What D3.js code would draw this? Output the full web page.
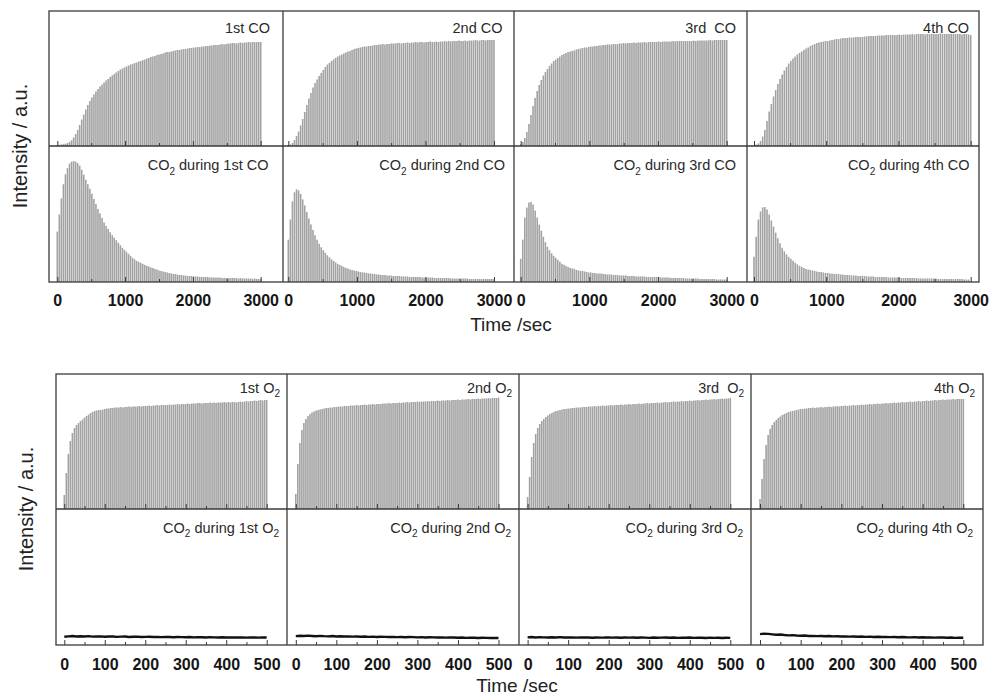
<!DOCTYPE html>
<html>
<head>
<meta charset="utf-8">
<script src="https://cdn.jsdelivr.net/npm/d3@7"></script>
<style>
  body { margin: 0; background: #fff; }
  svg { display: block; font-family: "Liberation Sans", Arial, sans-serif; }
</style>
</head>
<body>
<svg id="chart" width="995" height="697"></svg>
<script>
// ---------- data ----------
// CO pulses: one pulse every 30 s from 0 to 3000 s (intensity, a.u.)
const coPulseStep = 30;
const coRun1 = [1,1.2,1.5,1.8,2.3,2.9,4,5.8,8.5,12,16,21,26.5,31.5,36.5,41,45,48.5,51.5,54.5,57,59.5,61.5,63.5,65.5,67,69,70.5,72,73.5,75,76.5,77.5,78.5,79.5,80.5,81.5,82,83,83.5,84.5,85,86,86.5,87.5,88,89,89.5,90,91,91.5,92,92.5,93.5,94,94,94.5,95,95.5,96,96,96.5,97,97,97.5,98,98,98.5,98.5,99,99,99.5,99.5,100,100,100.5,100.5,101,101,101,101.5,102,101.5,102,102.5,102.5,103,103,102.5,103,103.5,103,103.5,103.5,104,103.5,104,104,104,104,104];
const coRun2 = [1,1.5,3,6,10,14.5,20.5,27,34,41,47.5,53,58.5,63,66.5,70,73,76,79,81.5,83,85,86.5,88,89.5,90.5,91.5,92.5,93.5,94.5,95,96,97,97.5,98,98.5,99,99.5,99.5,100,100,100.5,101,101,101.5,101.5,102,101.5,102,102,102.5,102.5,102.5,103,103,102.5,103,103,103.5,103,103.5,103.5,104,103.5,104,104,103.5,104,104,104.5,104,104,104.5,104,104.5,104.5,105,104.5,105,104.5,105,105,105,105.5,105,105,105.5,105,105.5,105.5,105.5,106,105.5,105.5,106,106,105.5,106,106,106,106];
const coRun3 = [2,4,8,14,22,31,40,48,55,61,66,70.5,74,77,80,82.5,85,86.5,88,89.5,91,92,93,94,94.5,95,95.5,96.5,97,97.5,98,98.5,98.5,99,99.5,99.5,100,100,100.5,100.5,101,101,101.5,101.5,101.5,102,102,102,102.5,102.5,103,102.5,103,103,103,103.5,103,103.5,103.5,103.5,104,103.5,104,104,104,104,104,104.5,104,104.5,104.5,104.5,104.5,104.5,105,104.5,105,105,105,105,105,105,105,105,105.5,105,105.5,105.5,105.5,105.5,105.5,105.5,106,105.5,106,106,106,106,106,106,106];
const coRun4 = [1,1.5,2.5,5,9.5,16,25,34.5,42,49.5,56,62,67,71.5,75.5,79,82.5,85,87.5,89.5,91.5,93,94.5,96,97.5,98.5,100,101,102,103,103.5,104,104.5,105,105,105.5,106,106.5,107,107,107.5,108,108,108,108.5,108.5,108.5,109,109,109,109,109.5,109.5,110,110,110,110,110.5,110.5,110.5,110.5,111,111,111,111,111,111,111.5,111,111.5,111.5,111.5,111.5,112,111.5,112,112,112,112,111.5,112,112,112,112,112,112,112.5,112,112,112,112,112,112,112,112,112,111.5,112,112,111.5,111];

// CO2 released during each CO run, same pulse timing
const co2DuringCo1 = [50,67,83,97,107,113,117.5,119.5,120,119.5,118,115.5,111.5,106.5,101.5,97,92.5,87.5,82.5,77.5,72.5,68,63.5,59,55.5,52.5,49.5,46.5,44,41.5,39,36.5,34,32,30,28,26,24,22.5,21,20,19,18,17,16,15.5,14.5,14,13,12.5,11.5,11,10.5,10,9.5,9,8.5,8,8,7.5,7,7,6.5,6.5,6,6,6,5.5,5.5,5.5,5,5,5,5,5,4.5,4.5,4.5,4.5,4.5,4.5,4,4,4,4,4,4,4,4,3.5,4,3.5,3.5,3.5,3.5,3.5,3,3.5,3,3,3];
const co2DuringCo2 = [42,62,80,89,92,91,87.5,82,76,69.5,63,57,51.5,46.5,42,38,34.5,31.5,29,26.5,24.5,22.5,21,19.5,18,17,16,15,14,13.5,12.5,12,11.5,11,10.5,10,9.5,9.5,9,8.5,8.5,8,8,7.5,7.5,7,7,7,6.5,6.5,6.5,6,6,6,6,5.5,5.5,5.5,5.5,5,5,5,5,5,5,4.5,4.5,4.5,4.5,4.5,4.5,4,4,4,4,4,4,4,4,3.5,3.5,3.5,3.5,3.5,3.5,3.5,3.5,3.5,3,3,3,3,3,3,3,3,3,3,3,3,3];
const co2DuringCo3 = [23,42,64,74,79,79.5,77,71,64,57,51,45,39.5,35,31.5,28.5,26,24,22,20,18,17,16,15,14,13.5,13,12,11.5,11,11,10.5,10,9.5,9.5,9,9,8.5,8.5,8.5,8,8,7.5,7.5,7.5,7,7,7,6.5,6.5,6.5,6.5,6,6,6,6,5.5,5.5,5.5,5.5,5.5,5,5,5,5,5,5,5,4.5,4.5,4.5,4.5,4.5,4,4,4,4,4,4,4,3.5,3.5,3.5,3.5,3.5,3.5,3.5,3,3,3,3,3,3,3,3,2.5,2.5,2.5,2.5,2.5,2.5];
const co2DuringCo4 = [25,45,62,70,74,74.5,72,67,61,55,49,43.5,38.5,34,30.5,27.5,25,23,21,19,17.5,16,15,14,13,12.5,12,11.5,11,10.5,10,10,9.5,9,9,8.5,8.5,8,8,8,7.5,7.5,7,7,7,6.5,6.5,6.5,6,6,6,6,5.5,5.5,5.5,5.5,5,5,5,5,5,5,4.5,4.5,4.5,4.5,4.5,4.5,4,4,4,4,4,4,4,4,3.5,3.5,3.5,3.5,3.5,3.5,3.5,3.5,3.5,3,3,3,3,3,3,3,3,3,3,3,3,2.5,2.5,2.5];

// O2 pulses: one pulse every 5 s from 0 to 500 s
const o2PulseStep = 5;
const o2Run1 = [14,36,55,68,76,81,84,86,88,89.5,91.5,93,94.5,96,97,98,98.5,99,99,99.5,100,100.5,100.5,101,101,101.5,101.5,101.5,102,101.5,102,102,102.5,102,102.5,102.5,102.5,103,102.5,103,103,103,103.5,103,103.5,103.5,104,103.5,104,104,104,104,104.5,104,104.5,104.5,105,104.5,105,105,105,105.5,105,105.5,105.5,105.5,106,106,105.5,106,106,106,106.5,106,106.5,106,106.5,106.5,106.5,107,106.5,107,106.5,107,107,106.5,107,107.5,107,107.5,108,107.5,108,108,108.5,108,108.5,109,108.5,109,109];
const o2Run2 = [15,45,66,79,86,90,93,95,96.5,97.5,98.5,99,99.5,100,100.5,101,101,101.5,101.5,102,102,102.5,102.5,102.5,103,103,103,103.5,103.5,103.5,104,103.5,104,104,104.5,104,104.5,104.5,105,104.5,105,105,105,105.5,105.5,105.5,106,105.5,106,106,106,106.5,106,106.5,106.5,107,106.5,107,107,107,107.5,107,107.5,107.5,107.5,108,107.5,108,108,108,108.5,108,108.5,108.5,108.5,109,108.5,109,109,109,109.5,109,109.5,109.5,109.5,110,109.5,110,110,110,110.5,110,110.5,110.5,110.5,111,110.5,111,111,111,111.5];
const o2Run3 = [12,32,52,66,75,81,85,88,90,92,93.5,95,96,97,98,98.5,99,99.5,100,100,100.5,100.5,101,101,101.5,101.5,101.5,102,102,102,102.5,102.5,102.5,103,102.5,103,103,103.5,103,103.5,103.5,104,103.5,104,104,104,104.5,104,104.5,104.5,105,104.5,105,105,105,105.5,105,105.5,105.5,106,105.5,106,106,106,106.5,106,106.5,106.5,107,106.5,107,107,107.5,107,107.5,107.5,108,107.5,108,108,108.5,108,108.5,108.5,109,108.5,109,109,109.5,109,109.5,109.5,110,109.5,110,110,110.5,110,110.5,110.5,111];
const o2Run4 = [10,30,50,64,74,80,84,87,89,91,92.5,94,95,96,97,97.5,98,98.5,99,99.5,100,100,100.5,100.5,101,101,101.5,101,101.5,101.5,102,101.5,102,102,102.5,102,102.5,102.5,103,102.5,103,103,103.5,103,103.5,103.5,104,103.5,104,104,104.5,104,104.5,104.5,105,104.5,105,105,105.5,105,105.5,105.5,106,105.5,106,106,106.5,106,106.5,106.5,107,106.5,107,107,107.5,107,107.5,107.5,108,107.5,108,108,108.5,108,108.5,108.5,109,108.5,109,109,109.5,109,109.5,109.5,109.5,110,109.5,110,110,110,110];

// CO2 signal recorded during each O2 run, sampled every 10 s
const co2O2Step = 10;
const co2DuringO2_1 = [8.2,8.6,8.9,8.5,8.7,8.4,8.8,8.3,8.5,8.6,8.2,8.4,8.5,8.1,8.3,8.4,8.0,8.2,8.3,7.9,8.1,8.2,7.9,8.0,7.8,8.1,7.9,7.7,8.0,7.8,7.7,7.9,7.6,7.8,7.7,7.5,7.8,7.6,7.5,7.7,7.4,7.6,7.5,7.4,7.6,7.3,7.5,7.4,7.3,7.5,7.4];
const co2DuringO2_2 = [8.8,9.2,8.9,9.3,9.0,8.7,9.1,8.8,8.6,8.9,8.5,8.7,8.4,8.6,8.3,8.5,8.2,8.4,8.1,8.3,8.0,8.2,8.1,7.9,8.1,7.8,8.0,7.7,7.9,7.8,7.6,7.8,7.5,7.7,7.6,7.4,7.6,7.3,7.5,7.4,7.2,7.4,7.1,7.3,7.2,7.0,7.2,7.1,6.9,7.1,7.0];
const co2DuringO2_3 = [7.6,7.9,7.5,7.8,7.6,7.4,7.7,7.5,7.8,7.4,7.6,7.5,7.3,7.6,7.4,7.5,7.2,7.5,7.3,7.4,7.6,7.3,7.5,7.2,7.4,7.3,7.5,7.2,7.4,7.3,7.1,7.4,7.2,7.3,7.5,7.2,7.4,7.1,7.3,7.2,7.4,7.1,7.3,7.2,7.0,7.3,7.1,7.2,7.0,7.2,7.1];
const co2DuringO2_4 = [10.8,11.3,11.0,10.6,10.2,10.4,9.9,9.6,9.8,9.4,9.2,9.4,9.0,9.1,8.8,9.0,8.7,8.9,8.6,8.7,8.5,8.6,8.3,8.5,8.2,8.4,8.1,8.3,8.0,8.2,7.9,8.1,7.8,8.0,7.7,7.9,7.7,7.6,7.8,7.5,7.7,7.4,7.6,7.3,7.5,7.4,7.2,7.4,7.1,7.3,7.2];

// panel captions; {2} marks a subscript
const coLabels = ["1st CO", "2nd CO", "3rd  CO", "4th CO"];
const co2CoLabels = ["CO{2} during 1st CO", "CO{2} during 2nd CO", "CO{2} during 3rd CO", "CO{2} during 4th CO"];
const o2Labels = ["1st O{2}", "2nd O{2}", "3rd  O{2}", "4th O{2}"];
const co2O2Labels = ["CO{2} during 1st O{2}", "CO{2} during 2nd O{2}", "CO{2} during 3rd O{2}", "CO{2} during 4th O{2}"];

const coTicks = [0, 1000, 2000, 3000];
const o2Ticks = [0, 100, 200, 300, 400, 500];
const xTitle = "Time /sec";
const yTitle = "Intensity / a.u.";

// ---------- layout ----------
const blocks = [
  {
    cols: [49, 283, 514, 747, 979],
    rows: [11, 146, 282],
    zeroX: [57.3, 288.3, 520.7, 754],
    endX: [260.7, 494, 726.7, 970.7],
    tMax: 3000, minorStep: 500,
    ticks: coTicks,
    step: coPulseStep,
    series: [
      { kind: "pulse", data: [coRun1, coRun2, coRun3, coRun4], labels: coLabels, labelY: 32.5, labelPad: [13, 11.5, 11, 10] },
      { kind: "pulse", data: [co2DuringCo1, co2DuringCo2, co2DuringCo3, co2DuringCo4], labels: co2CoLabels, labelY: 170, labelPad: [14.5, 9, 11, 9.5] }
    ],
    tickLabelY: 305.5,
    xTitleY: 331, xTitleX: 511,
    yTitleX: 27, yTitleY: 146
  },
  {
    cols: [56, 287, 519, 751, 983],
    rows: [374, 509, 645],
    zeroX: [64.3, 295.8, 527.6, 760],
    endX: [266.7, 498.5, 730.3, 963.3],
    tMax: 500, minorStep: 50,
    ticks: o2Ticks,
    step: o2PulseStep,
    series: [
      { kind: "pulse", data: [o2Run1, o2Run2, o2Run3, o2Run4], labels: o2Labels, labelY: 392.5, labelPad: [7, 7, 7, 8] },
      { kind: "line", data: [co2DuringO2_1, co2DuringO2_2, co2DuringO2_3, co2DuringO2_4], step: co2O2Step, labels: co2O2Labels, labelY: 532.5, labelPad: [8, 8, 8, 10] }
    ],
    tickLabelY: 669,
    xTitleY: 692, xTitleX: 517,
    yTitleX: 33, yTitleY: 509
  }
];

const svg = d3.select("#chart");
const frameColor = "#3a3a3a";
const pulseColor = "#a2a2a2";

// caption with optional subscripts; the tspan after a subscript carries the baseline reset
function addCaption(g, x, y, text) {
  const t = g.append("text")
    .attr("x", x).attr("y", y)
    .attr("text-anchor", "end")
    .attr("font-size", 14.5)
    .attr("fill", "#2a2a2a")
    .style("white-space", "pre");
  const parts = text.split(/\{(\d)\}/);
  let pendingReset = 0;
  parts.forEach((p, i) => {
    if (p === "") return;
    if (i % 2 === 1) {
      t.append("tspan").attr("font-size", 10).attr("dy", 4.5).text(p);
      pendingReset = -4.5;
    } else {
      const ts = t.append("tspan").text(p);
      if (pendingReset) { ts.attr("dy", pendingReset); pendingReset = 0; }
    }
  });
}

blocks.forEach(b => {
  const g = svg.append("g");
  for (let c = 0; c < 4; c++) {
    const L = b.cols[c], R = b.cols[c + 1];
    const k = (b.endX[c] - b.zeroX[c]) / b.tMax;
    const x = d3.scaleLinear()
      .domain([(L - b.zeroX[c]) / k, (R - b.zeroX[c]) / k])
      .range([L, R]);

    b.series.forEach((s, r) => {
      const top = b.rows[r], bottom = b.rows[r + 1];
      const y = d3.scaleLinear().domain([0, 135]).range([bottom, top]);
      const values = s.data[c];
      const pg = g.append("g");

      if (s.kind === "pulse") {
        pg.selectAll("line")
          .data(values)
          .join("line")
          .attr("x1", (d, i) => x(i * b.step))
          .attr("x2", (d, i) => x(i * b.step))
          .attr("y1", y(0))
          .attr("y2", d => y(d))
          .attr("stroke", pulseColor)
          .attr("stroke-width", 1.6);
      } else {
        const line = d3.line()
          .x((d, i) => x(i * s.step))
          .y(d => y(d));
        pg.append("path")
          .attr("d", line(values))
          .attr("fill", "none")
          .attr("stroke", "#111")
          .attr("stroke-width", 2.4)
          .attr("stroke-linejoin", "round");
      }

      // inward ticks on the bottom edge of each panel
      const axis = d3.axisBottom(x)
        .tickValues(d3.range(0, b.tMax + 1, b.minorStep))
        .tickSizeInner(0).tickSizeOuter(0).tickFormat("");
      const ag = pg.append("g").attr("transform", `translate(0,${bottom})`).call(axis);
      ag.select(".domain").remove();
      ag.selectAll(".tick line")
        .attr("y2", d => (b.ticks.includes(d) ? -5 : -3))
        .attr("stroke", frameColor)
        .attr("stroke-width", 1);

      addCaption(pg, R - s.labelPad[c], s.labelY, s.labels[c]);
    });

    // tick labels under the lower row
    const tl = d3.axisBottom(x).tickValues(b.ticks).tickSize(0).tickFormat(d3.format("d"));
    const tg = g.append("g").attr("transform", `translate(0,${b.tickLabelY - 12})`).call(tl);
    tg.select(".domain").remove();
    tg.selectAll(".tick text")
      .attr("y", 0).attr("dy", "0.8em")
      .attr("font-size", 16)
      .attr("font-weight", "bold")
      .attr("font-family", "'Liberation Sans', Arial, sans-serif")
      .attr("fill", "#151515");
  }

  // panel frames
  const x0 = b.cols[0], x1 = b.cols[4];
  g.append("rect")
    .attr("x", x0).attr("y", b.rows[0])
    .attr("width", x1 - x0).attr("height", b.rows[2] - b.rows[0])
    .attr("fill", "none").attr("stroke", frameColor).attr("stroke-width", 1.3);
  g.append("line")
    .attr("x1", x0).attr("x2", x1).attr("y1", b.rows[1]).attr("y2", b.rows[1])
    .attr("stroke", frameColor).attr("stroke-width", 1.3);
  for (let c = 1; c < 4; c++) {
    g.append("line")
      .attr("x1", b.cols[c]).attr("x2", b.cols[c])
      .attr("y1", b.rows[0]).attr("y2", b.rows[2])
      .attr("stroke", frameColor).attr("stroke-width", 1.3);
  }

  // axis titles
  g.append("text")
    .attr("x", b.xTitleX).attr("y", b.xTitleY)
    .attr("text-anchor", "middle")
    .attr("font-size", 19).attr("fill", "#222")
    .text(xTitle);
  g.append("text")
    .attr("transform", `translate(${b.yTitleX},${b.yTitleY}) rotate(-90)`)
    .attr("text-anchor", "middle")
    .attr("font-size", 20).attr("fill", "#222")
    .text(yTitle);
});
</script>
</body>
</html>
